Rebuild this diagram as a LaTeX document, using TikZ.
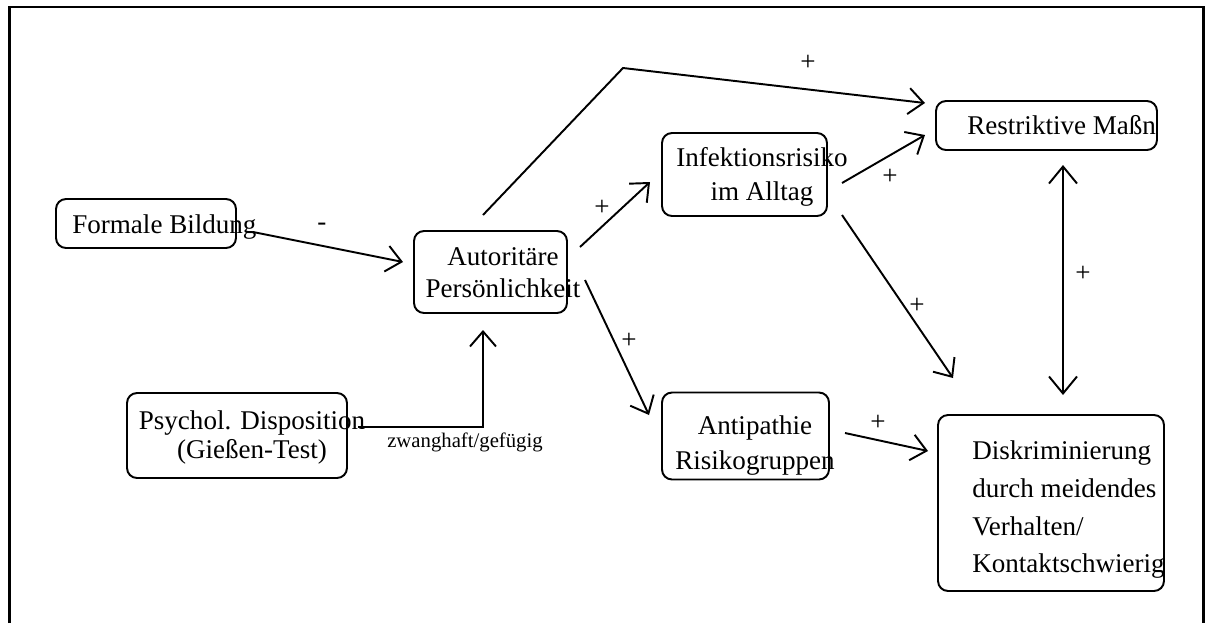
\documentclass[tikz,border=0pt]{standalone}
\usepackage{fontspec}
\setmainfont{Liberation Serif}
\usetikzlibrary{arrows.meta}

\begin{document}
\begin{tikzpicture}[x=0.02cm,y=-0.02cm,every node/.style={inner sep=0pt},
  box/.style={draw,line width=1.1pt,rounded corners=0.2cm},
  txt/.style={font=\fontsize{15.4}{18.2}\selectfont},
  lbl/.style={font=\fontsize{15.4}{18}\selectfont},
  small/.style={font=\fontsize{11.8}{14}\selectfont},
  link/.style={line width=1.1pt,-{Straight Barb[length=0.3cm,width=0.52cm]}},
  both/.style={line width=1.1pt,{Straight Barb[length=0.34cm,width=0.56cm]}-{Straight Barb[length=0.34cm,width=0.56cm]}}]
\useasboundingbox (0,0) rectangle (1211,623);
\draw[line width=1.7pt] (9.5,623) -- (9.5,7) -- (1203,7) -- (1203,623);
\node[box,minimum width=3.6cm,minimum height=0.98cm] (fb) at (146,223.5) {};
\node[box,minimum width=3.06cm,minimum height=1.64cm] (ap) at (490.5,272) {};
\node[box,minimum width=4.4cm,minimum height=1.7cm] (pd) at (237,435.5) {};
\node[box,minimum width=3.3cm,minimum height=1.66cm] (ir) at (744.5,174.5) {};
\node[box,minimum width=4.42cm,minimum height=0.98cm] (rm) at (1046.5,125.5) {};
\node[box,minimum width=3.34cm,minimum height=1.74cm] (ar) at (745.5,436) {};
\node[box,minimum width=4.52cm,minimum height=3.52cm] (dk) at (1051,503) {};
\node[txt,anchor=base west] (fb-t) at (72,233) {Formale Bildung};
\node[txt,align=center,anchor=north] (ap-t) at (503,247) {Autoritäre\\Persönlichkeit};
\node[txt,align=center,anchor=north,font=\fontsize{15.4}{16.5}\selectfont] (pd-t) at (252,410) {Psychol. Disposition\\(Gießen-Test)};
\node[txt,align=center,anchor=north,font=\fontsize{15.4}{19.3}\selectfont] (ir-t) at (762,147) {Infektionsrisiko\\im Alltag};
\node[txt,anchor=base west] (rm-t) at (967,134) {Restriktive Maßn};
\node[txt,align=center,anchor=north,font=\fontsize{15.4}{20}\selectfont] (ar-t) at (755,415) {Antipathie\\Risikogruppen};
\node[txt,align=left,anchor=north west,font=\fontsize{15.4}{21.6}\selectfont] (dk-t) at (972,440) {Diskriminierung\\durch meidendes\\Verhalten/\\Kontaktschwierig};
\coordinate (fb-o) at (253,232);
\coordinate (ap-w) at (403,262);
\coordinate (pd-o) at (358,427);
\coordinate (ap-s) at (483,330);
\coordinate (ap-n) at (483,215);
\coordinate (bend) at (623,68);
\coordinate (rm-w1) at (925,103);
\coordinate (ap-ne) at (580,247);
\coordinate (ir-w) at (650,182);
\coordinate (ap-se) at (585,280);
\coordinate (ar-w) at (649,415);
\coordinate (ir-ne) at (842,183);
\coordinate (rm-w2) at (925,135);
\coordinate (ir-se) at (842,215);
\coordinate (dk-nw) at (953,378);
\coordinate (ar-e) at (845,433);
\coordinate (dk-w) at (928,451);
\coordinate (rm-s) at (1063,165);
\coordinate (dk-n) at (1063,395);
\draw[link] (fb-o) -- (ap-w);
\draw[link] (pd-o) -| (ap-s);
\draw[link] (ap-n) -- (bend) -- (rm-w1);
\draw[link] (ap-ne) -- (ir-w);
\draw[link] (ap-se) -- (ar-w);
\draw[link] (ir-ne) -- (rm-w2);
\draw[link] (ir-se) -- (dk-nw);
\draw[link] (ar-e) -- (dk-w);
\draw[both] (rm-s) -- (dk-n);
\node[lbl] (l-fb) at (322,227) {-};
\node[lbl] (l-top) at (808,63) {+};
\node[lbl] (l-ir) at (602,208) {+};
\node[lbl] (l-ar) at (629,341) {+};
\node[lbl] (l-rm) at (890,177) {+};
\node[lbl] (l-dk) at (917,306) {+};
\node[lbl] (l-both) at (1083,274) {+};
\node[lbl] (l-ardk) at (878,423) {+};
\node[small,anchor=base] (l-pd) at (465,447) {zwanghaft/gefügig};
\end{tikzpicture}
\end{document}
